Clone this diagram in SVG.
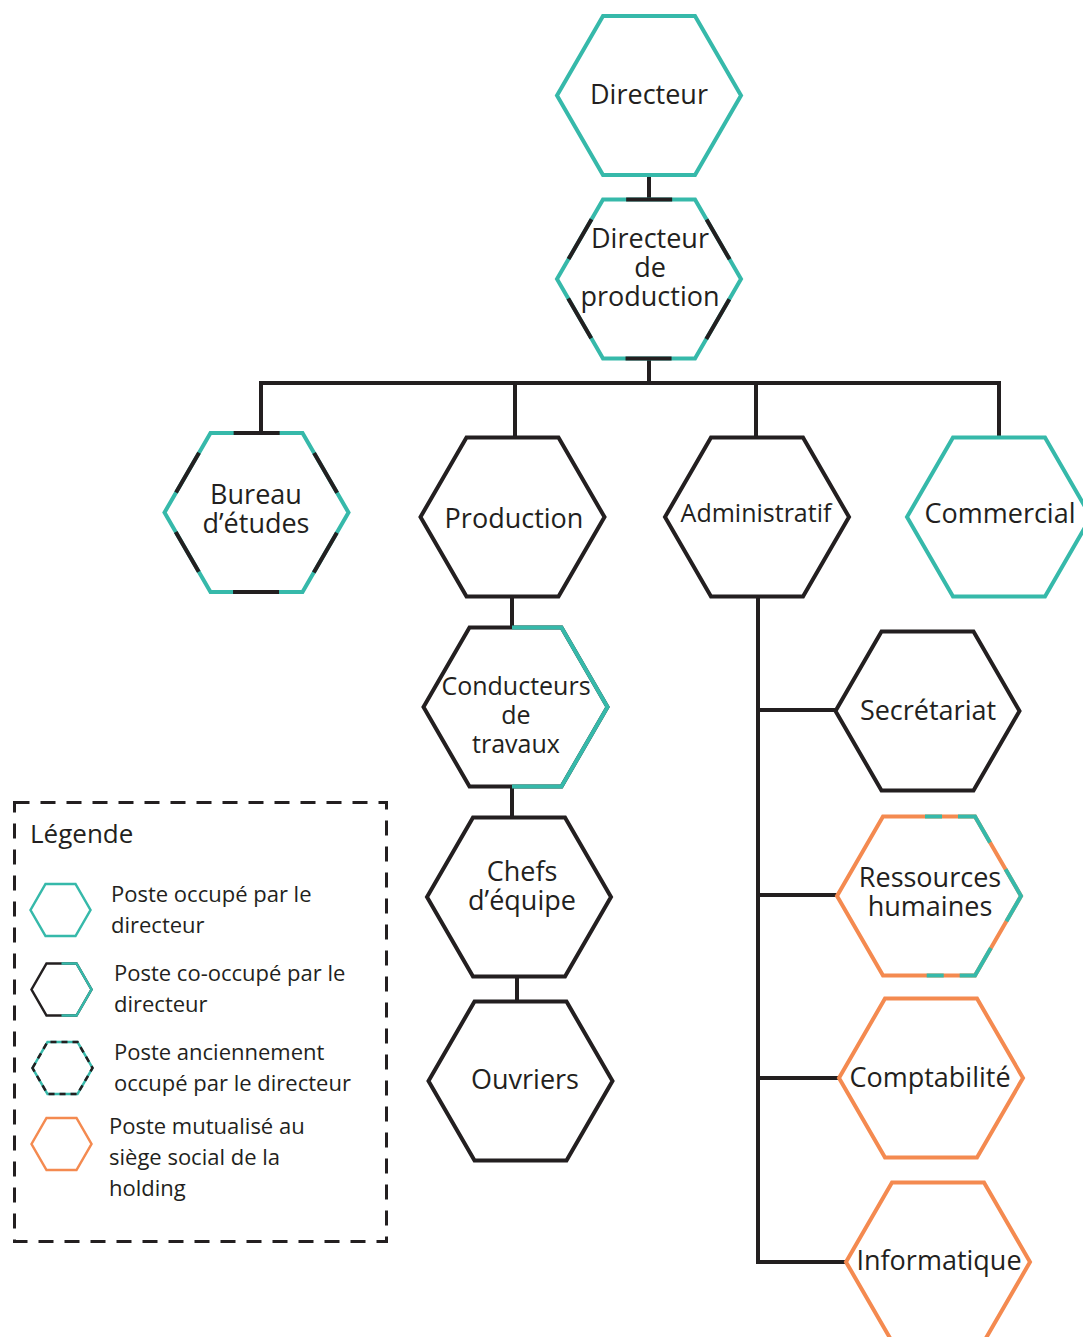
<svg xmlns="http://www.w3.org/2000/svg" xmlns:xlink="http://www.w3.org/1999/xlink" width="1083" height="1337" viewBox="0 0 1083 1337">
<style>
  .t{font-family:"Open Sans","Liberation Sans",sans-serif;fill:#231f20;text-anchor:middle;font-size:27px}
  .lt{font-family:"Open Sans","Liberation Sans",sans-serif;fill:#231f20;font-size:22px}
  .hx{fill:#fff;stroke-width:4;stroke-linejoin:miter}
  .teal{stroke:#36b9aa}
  .blk{stroke:#231f20}
  .org{stroke:#f48a50}
  .ln{fill:none;stroke-width:4;stroke-linejoin:miter}
  .former{fill:none;stroke:#231f20;stroke-width:4;stroke-dasharray:0 23 46 23}
  .conn{fill:none;stroke:#231f20;stroke-width:4;stroke-linejoin:miter}
  .lh{fill:#fff;stroke-width:2.5}
</style>
<defs>
  <polygon id="hex" points="-92,0 -46,-79.5 46,-79.5 92,0 46,79.5 -46,79.5"/>
  <polygon id="hs" points="-30,0 -15,-26 15,-26 30,0 15,26 -15,26"/>
</defs>

<g id="connectors">
  <path class="conn" d="M649,174 V201"/>
  <path class="conn" d="M649,357 V383"/>
  <path class="conn" d="M261,433 V383 H999 V438"/>
  <path class="conn" d="M515,383 V438"/>
  <path class="conn" d="M756,383 V438"/>
  <path class="conn" d="M512,596 V628"/>
  <path class="conn" d="M512,786 V818"/>
  <path class="conn" d="M517,976 V1002"/>
  <path class="conn" d="M758,596 V1262 H848"/>
  <path class="conn" d="M758,710 H837"/>
  <path class="conn" d="M758,895 H837"/>
  <path class="conn" d="M758,1078 H840"/>
</g>

<g id="directeur">
  <use xlink:href="#hex" x="649" y="95.5" class="hx teal"/>
  <text class="t" x="649" y="104">Directeur</text>
</g>

<g id="directeur-production">
  <use xlink:href="#hex" x="649" y="279" class="hx teal"/>
  <use xlink:href="#hex" x="649" y="279" class="former"/>
  <text class="t"><tspan x="650" y="248">Directeur</tspan><tspan x="650" y="277">de</tspan><tspan x="650" y="306">production</tspan></text>
</g>

<g id="bureau-etudes">
  <use xlink:href="#hex" x="256.5" y="512.5" class="hx teal"/>
  <use xlink:href="#hex" x="256.5" y="512.5" class="former"/>
  <text class="t"><tspan x="256" y="504">Bureau</tspan><tspan x="256" y="533">d’études</tspan></text>
</g>

<g id="production">
  <use xlink:href="#hex" x="512.5" y="517" class="hx blk"/>
  <text class="t" x="514" y="528">Production</text>
</g>

<g id="administratif">
  <use xlink:href="#hex" x="757" y="517" class="hx blk"/>
  <text class="t" x="756" y="522" style="font-size:25px">Administratif</text>
</g>

<g id="commercial">
  <use xlink:href="#hex" x="999" y="517" class="hx teal"/>
  <text class="t" x="1000" y="523">Commercial</text>
</g>

<g id="conducteurs">
  <use xlink:href="#hex" x="515.5" y="707" class="hx blk"/>
  <path class="ln teal" d="M512,627.5 H561.5 L607.5,707 L561.5,786.5 H512"/>
  <text class="t" style="font-size:25px"><tspan x="516" y="695">Conducteurs</tspan><tspan x="516" y="724">de</tspan><tspan x="516" y="753">travaux</tspan></text>
</g>

<g id="chefs-equipe">
  <use xlink:href="#hex" x="519" y="897" class="hx blk"/>
  <text class="t"><tspan x="522" y="881">Chefs</tspan><tspan x="522" y="910">d’équipe</tspan></text>
</g>

<g id="ouvriers">
  <use xlink:href="#hex" x="520.5" y="1081" class="hx blk"/>
  <text class="t" x="525" y="1089">Ouvriers</text>
</g>

<g id="secretariat">
  <use xlink:href="#hex" x="927.5" y="711" class="hx blk"/>
  <text class="t" x="928" y="720">Secrétariat</text>
</g>

<g id="ressources-humaines">
  <use xlink:href="#hex" x="929" y="896" class="hx org"/>
  <path class="ln teal" d="M925,816.5 H975 L1021,896 L975,975.5 H925" style="stroke-dasharray:17 16 47 31 60 31 47 16 17"/>
  <text class="t"><tspan x="930" y="887">Ressources</tspan><tspan x="930" y="916">humaines</tspan></text>
</g>

<g id="comptabilite">
  <use xlink:href="#hex" x="931" y="1078" class="hx org"/>
  <text class="t" x="930" y="1087">Comptabilité</text>
</g>

<g id="informatique">
  <use xlink:href="#hex" x="938" y="1262" class="hx org"/>
  <text class="t" x="939" y="1270">Informatique</text>
</g>

<g id="legende">
  <rect x="14.5" y="802.5" width="372" height="439" fill="none" stroke="#231f20" stroke-width="3" stroke-dasharray="15 11"/>
  <text class="lt" x="30" y="843" style="font-size:26px">Légende</text>

  <use xlink:href="#hs" x="60.5" y="910" class="lh teal"/>
  <text class="lt"><tspan x="111" y="902">Poste occupé par le</tspan><tspan x="111" y="933">directeur</tspan></text>

  <use xlink:href="#hs" x="61.5" y="989.5" class="lh blk"/>
  <path class="teal" fill="none" stroke-width="2.5" d="M61.5,963.5 H76.5 L91.5,989.5 L76.5,1015.5 H61.5"/>
  <text class="lt"><tspan x="114" y="981">Poste co-occupé par le</tspan><tspan x="114" y="1012">directeur</tspan></text>

  <use xlink:href="#hs" x="62.5" y="1068" class="lh teal"/>
  <use xlink:href="#hs" x="62.5" y="1068" fill="none" stroke="#231f20" stroke-width="2.5" stroke-dasharray="6 5"/>
  <text class="lt"><tspan x="114" y="1060">Poste anciennement</tspan><tspan x="114" y="1091">occupé par le directeur</tspan></text>

  <use xlink:href="#hs" x="61.5" y="1144" class="lh org"/>
  <text class="lt"><tspan x="109" y="1134">Poste mutualisé au</tspan><tspan x="109" y="1165">siège social de la</tspan><tspan x="109" y="1196">holding</tspan></text>
</g>
</svg>
